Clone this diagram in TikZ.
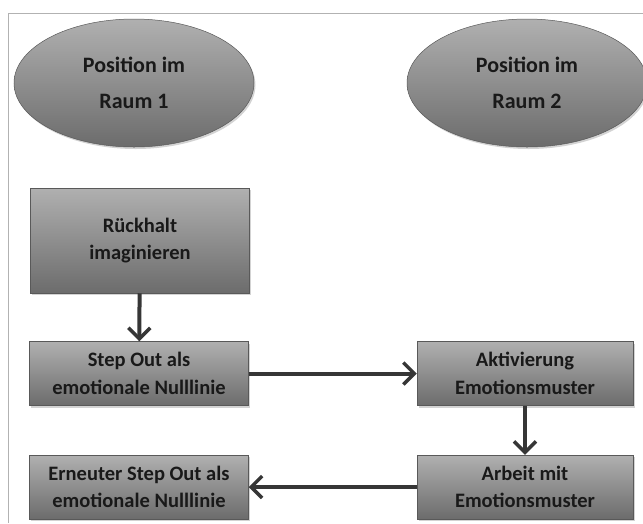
\documentclass[tikz,border=0pt]{standalone}
\usepackage{fontspec}
\setmainfont{Carlito}
\usepackage{tikz}
\usetikzlibrary{arrows.meta,shapes.geometric,shadows,positioning}
\definecolor{boxtop}{HTML}{B0B0B0}
\definecolor{boxbot}{HTML}{6C6C6C}
\definecolor{arrowgray}{HTML}{363636}

\begin{document}
\begin{tikzpicture}[x=1pt, y=-1pt,
  raum/.style={ellipse, minimum width=240pt, minimum height=128pt,
    draw=gray!70!black, line width=0.5pt, top color=boxtop, bottom color=boxbot,
    drop shadow={opacity=0.35, shadow xshift=1.5pt, shadow yshift=-2pt},
    font=\fontsize{22}{36}\selectfont\bfseries, align=center, text=black!90},
  stepbox/.style={rectangle, minimum width=219pt, minimum height=64pt,
    draw=gray!70!black, line width=0.5pt, top color=boxtop, bottom color=boxbot,
    drop shadow={opacity=0.35, shadow xshift=1.5pt, shadow yshift=-2pt},
    font=\fontsize{20.5}{27.5}\selectfont\bfseries, align=center, text=black!90},
  flow/.style={-{Straight Barb[length=11pt, width=22pt, line width=3.5pt]},
    line width=4pt, color=arrowgray}
]
\useasboundingbox (0,0) rectangle (643,523);
\draw[gray!60, line width=1pt] (8,523) |- (643,13);
\node[raum] (p1) at (134,83)  {Position im\\Raum 1};
\node[raum] (p2) at (527,83)  {Position im\\Raum 2};
\node[stepbox, minimum height=105pt] (n1) at (140,240.5) {Rückhalt\\imaginieren};
\node[stepbox] (n2) at (139,373.5) {Step Out als\\emotionale Nulllinie};
\node[stepbox, minimum width=216pt] (n3) at (525,373.5) {Aktivierung\\Emotionsmuster};
\node[stepbox, minimum width=216pt] (n4) at (525,487) {Arbeit mit\\Emotionsmuster};
\node[stepbox] (n5) at (139,487) {Erneuter Step Out als\\emotionale Nulllinie};
\foreach \a/\b in {n1/n2,n2/n3,n3/n4,n4/n5}
  {\draw[flow] (\a) -- (\b);}
\end{tikzpicture}
\end{document}
